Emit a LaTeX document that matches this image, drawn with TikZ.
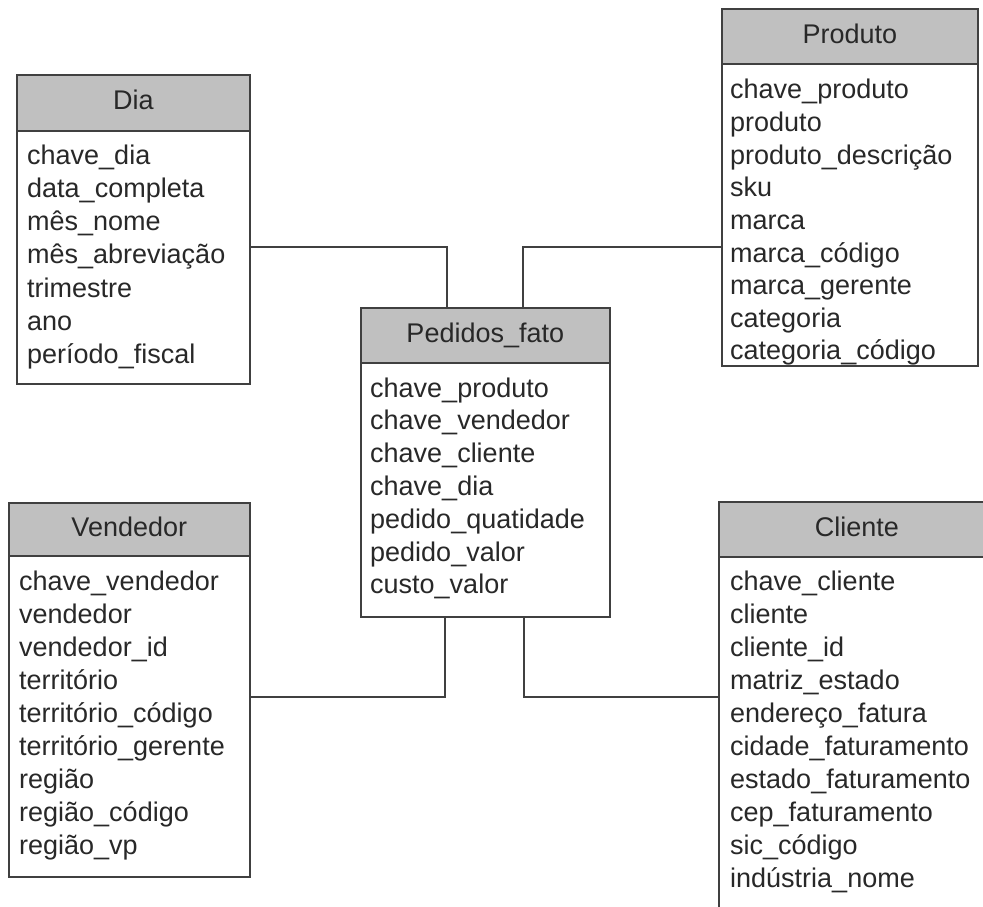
\documentclass[tikz,border=0pt]{standalone}
\usepackage{fontspec}
\setmainfont{Liberation Sans}
\definecolor{hdr}{RGB}{192,192,192}
\definecolor{edge}{RGB}{64,64,64}
\definecolor{txt}{RGB}{40,40,40}
\tikzset{
  tbl/.style={draw=edge, line width=1.6pt, fill=white, inner sep=0pt, anchor=north west},
  hdrbox/.style={tbl, fill=hdr},
  field/.style={anchor=west, inner sep=0pt, text height=20pt, text depth=6pt, font=\fontsize{27}{33}\selectfont, text=txt},
  title/.style={field, anchor=center},
  link/.style={draw=edge, line width=1.6pt},
}
\begin{document}
\begin{tikzpicture}[x=1pt,y=-1pt]
\useasboundingbox (0,0) rectangle (983,907);
\fill[white] (0,0) rectangle (983,907);
\clip (0,0) rectangle (983,907);

% junction coordinates
\coordinate (j1) at (447,247);
\coordinate (j2) at (523,247);
\coordinate (j3) at (445,697);
\coordinate (j4) at (524,697);

% Dia
\node[tbl, minimum width=233pt, minimum height=309pt] (dia) at (16,74) {};
\node[hdrbox, minimum width=233pt, minimum height=56pt] (diah) at (16,74) {};
\node[title] (diat) at (diah.center) {Dia};
\foreach \t [count=\i from 0] in {chave\_dia, data\_completa, mês\_nome, mês\_abreviação, trimestre, ano, período\_fiscal}
  \node[field] (dia-\i) at (27,157+33.3*\i) {\t};

% Pedidos_fato
\node[tbl, minimum width=249pt, minimum height=309pt] (ped) at (360,307) {};
\node[hdrbox, minimum width=249pt, minimum height=55pt] (pedh) at (360,307) {};
\node[title] (pedt) at (pedh.center) {Pedidos\_fato};
\foreach \t [count=\i from 0] in {chave\_produto, chave\_vendedor, chave\_cliente, chave\_dia, pedido\_quatidade, pedido\_valor, custo\_valor}
  \node[field] (ped-\i) at (370,390+32.8*\i) {\t};

% Produto
\node[tbl, minimum width=256pt, minimum height=357pt] (pro) at (721,8) {};
\node[hdrbox, minimum width=256pt, minimum height=55pt] (proh) at (721,8) {};
\node[title] (prot) at (proh.center) {Produto};
\foreach \t [count=\i from 0] in {chave\_produto, produto, produto\_descrição, sku, marca, marca\_código, marca\_gerente, categoria, categoria\_código}
  \node[field] (pro-\i) at (730,92+32.6*\i) {\t};

% Vendedor
\node[tbl, minimum width=241pt, minimum height=374pt] (ven) at (8,502) {};
\node[hdrbox, minimum width=241pt, minimum height=53pt] (venh) at (8,502) {};
\node[title] (vent) at (venh.center) {Vendedor};
\foreach \t [count=\i from 0] in {chave\_vendedor, vendedor, vendedor\_id, território, território\_código, território\_gerente, região, região\_código, região\_vp}
  \node[field] (ven-\i) at (19,583+33*\i) {\t};

% Cliente
\node[tbl, minimum width=276pt, minimum height=430pt] (cli) at (718,501) {};
\node[hdrbox, minimum width=276pt, minimum height=55pt] (clih) at (718,501) {};
\node[title] (clit) at (clih.center) {Cliente};
\foreach \t [count=\i from 0] in {chave\_cliente, cliente, cliente\_id, matriz\_estado, endereço\_fatura, cidade\_faturamento, estado\_faturamento, cep\_faturamento, sic\_código, indústria\_nome}
  \node[field] (cli-\i) at (730,583+33*\i) {\t};

% connectors
\draw[link] (dia.east |- j1) -| (ped.north -| j1);
\draw[link] (pro.west |- j2) -| (ped.north -| j2);
\draw[link] (ped.south -| j3) |- (ven.east |- j3);
\draw[link] (ped.south -| j4) |- (cli.west |- j4);
\end{tikzpicture}
\end{document}
